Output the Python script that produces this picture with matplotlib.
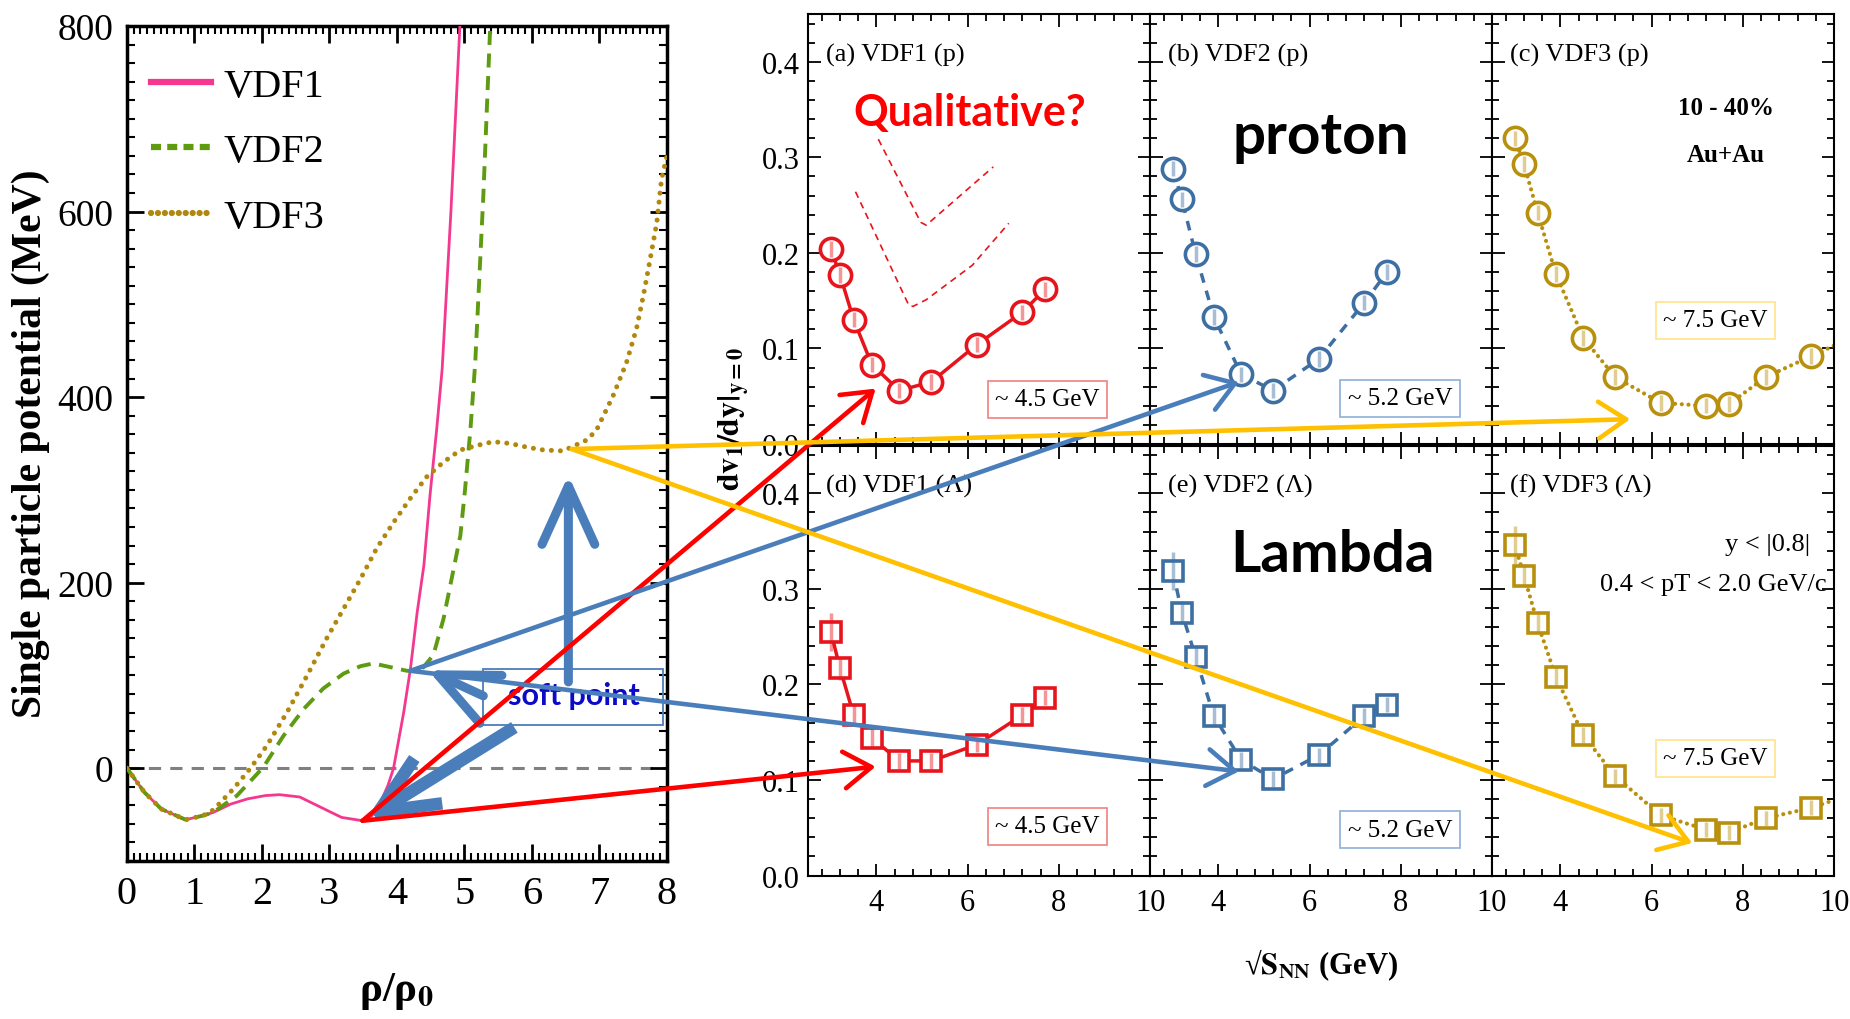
import matplotlib
matplotlib.use("Agg")
import matplotlib.pyplot as plt
from matplotlib.lines import Line2D
from matplotlib.patches import ConnectionPatch, Rectangle
from matplotlib.ticker import MultipleLocator, AutoMinorLocator, FormatStrFormatter

plt.rcParams["font.family"] = ["Liberation Serif", "DejaVu Serif"]
plt.rcParams["mathtext.fontset"] = "stix"

# ---------------------------------------------------------------------------
# Single-particle potential U(rho/rho0) in MeV for the three VDF parametrisations
rho_vdf1 = [0.0, 0.26, 0.51, 0.87, 1.13, 1.28, 1.54, 1.79, 2.05, 2.26, 2.56, 2.87,
            3.18, 3.49, 3.62, 3.75, 3.87, 3.95, 4.1, 4.2, 4.3, 4.4, 4.49, 4.59,
            4.67, 4.8, 4.93, 4.97]
U_vdf1 = [0, -26, -44, -55.5, -51, -47.6, -38.6, -33, -29.5, -28.5, -31, -42,
          -53, -56.6, -52, -38, -18, 0, 60, 107, 168, 219, 294, 366,
          430, 600, 796, 850]

rho_vdf2 = [0.0, 0.26, 0.51, 0.87, 1.13, 1.28, 1.63, 2.02, 2.32, 2.62, 2.91, 3.21,
            3.46, 3.65, 3.9, 4.15, 4.35, 4.54, 4.69, 4.81, 4.94, 5.01, 5.09, 5.16,
            5.28, 5.38, 5.40]
U_vdf2 = [0, -26, -44, -55.5, -51, -47.6, -29.5, 1, 35, 64, 86, 102,
          110, 113, 109, 105, 105, 122, 161, 204, 251, 301, 366, 437,
          617, 796, 850]

rho_vdf3 = [0.0, 0.26, 0.51, 0.87, 1.13, 1.28, 1.58, 1.83, 2.07, 2.37, 2.67, 2.96,
            3.21, 3.46, 3.70, 3.95, 4.2, 4.44, 4.69, 4.94, 5.19, 5.43, 5.68, 5.93,
            6.17, 6.46, 6.82, 6.96, 7.2, 7.4, 7.55, 7.65, 7.75, 7.85, 7.92, 8.0]
U_vdf3 = [0, -26, -44, -55.5, -51, -45, -22, 0, 24, 60, 100, 140,
          172, 204, 237, 265, 291, 314, 330, 343, 348, 352, 350, 346,
          343, 342, 354, 365, 401, 437, 474, 509, 548, 588, 635, 660]

# soft points on each potential curve (rho/rho0, MeV)
soft_vdf1 = (3.49, -56.6)
soft_vdf2 = (4.20, 105)
soft_vdf3 = (6.59, 344)

# ---------------------------------------------------------------------------
# Directed-flow slope dv1/dy at midrapidity vs collision energy (GeV)
sqrt_s = [3.0, 3.2, 3.5, 3.9, 4.5, 5.2, 6.2, 7.2, 7.7]
sqrt_s_vdf3 = [3.0, 3.2, 3.5, 3.9, 4.5, 5.2, 6.2, 7.2, 7.7, 8.5, 9.5, 11.5]

slope_p_vdf1 = [0.204, 0.177, 0.130, 0.083, 0.056, 0.065, 0.104, 0.138, 0.162]
slope_p_vdf2 = [0.288, 0.256, 0.199, 0.133, 0.073, 0.056, 0.089, 0.148, 0.180]
slope_p_vdf3 = [0.320, 0.293, 0.242, 0.178, 0.111, 0.070, 0.043, 0.040, 0.042,
                0.070, 0.092, 0.136]
slope_l_vdf1 = [0.255, 0.217, 0.168, 0.144, 0.120, 0.120, 0.137, 0.168, 0.186]
slope_l_vdf2 = [0.319, 0.275, 0.229, 0.167, 0.121, 0.101, 0.126, 0.167, 0.179]
slope_l_vdf3 = [0.346, 0.314, 0.264, 0.208, 0.147, 0.104, 0.063, 0.048, 0.045,
                0.060, 0.071, 0.103]

err_p = [0.008] * 9
err_p_vdf3 = [0.008] * 12
err_l = [0.020, 0.012, 0.010, 0.010, 0.008, 0.008, 0.008, 0.008, 0.008]
err_l_vdf3 = [0.020, 0.012, 0.010, 0.010, 0.008, 0.008, 0.008, 0.008, 0.008,
              0.008, 0.008, 0.008]

# hand-drawn "expected" trend sketches in panel (a)
sketch1_x = [4.04, 4.97, 5.09, 6.56]
sketch1_y = [0.319, 0.232, 0.229, 0.290]
sketch2_x = [3.54, 4.71, 4.80, 5.09, 6.10, 6.90]
sketch2_y = [0.264, 0.145, 0.144, 0.151, 0.187, 0.231]

panel_titles = ["(a) VDF1 (p)", "(b) VDF2 (p)", "(c) VDF3 (p)",
                "(d) VDF1 (\u039b)", "(e) VDF2 (\u039b)", "(f) VDF3 (\u039b)"]
minimum_labels = ["~ 4.5 GeV", "~ 5.2 GeV", "~ 7.5 GeV"]

PINK = "#F5388F"
GREEN = "#5E9B10"
GOLD_CURVE = "#B0880E"
RED = "#E8141C"
BLUE = "#3D6FA3"
GOLD = "#B8900E"
ARROW_RED = "#FF0000"
ARROW_BLUE = "#4A7EBB"
ARROW_GOLD = "#FFC000"

fig = plt.figure(figsize=(18.5, 10.2), dpi=100)

# ---------------------------------------------------------------------------
# Left: single-particle potential
ax0 = fig.add_axes([0.0686, 0.1549, 0.2919, 0.8186])
ax0.axhline(0, color="#808080", lw=2.2, dashes=(4, 3), zorder=1)
ax0.plot(rho_vdf1, U_vdf1, color=PINK, lw=2.0, zorder=3)
ax0.plot(rho_vdf2, U_vdf2, color=GREEN, lw=2.8, dashes=(3.6, 2.2), zorder=3)
ax0.plot(rho_vdf3, U_vdf3, color=GOLD_CURVE, lw=3.6, dashes=(0.01, 1.8),
         dash_capstyle="round", zorder=3)
ax0.set_xlim(0, 8)
ax0.set_ylim(-100, 800)
ax0.xaxis.set_major_locator(MultipleLocator(1))
ax0.xaxis.set_minor_locator(MultipleLocator(0.1))
ax0.yaxis.set_major_locator(MultipleLocator(200))
ax0.yaxis.set_minor_locator(MultipleLocator(20))
ax0.tick_params(which="both", direction="in", top=True, right=True, width=2)
ax0.tick_params(which="major", length=12, labelsize=27, pad=10)
ax0.tick_params(axis="x", which="major", labelsize=29)
ax0.tick_params(which="minor", length=6, width=1.5)
for s in ax0.spines.values():
    s.set_linewidth(2.5)

legend_handles = [
    Line2D([], [], color=PINK, lw=4.5),
    Line2D([], [], color=GREEN, lw=4.5, dashes=(1.6, 1.0)),
    Line2D([], [], color=GOLD_CURVE, lw=4.5, dashes=(0.01, 1.1), dash_capstyle="round"),
]
ax0.legend(legend_handles, ["VDF1", "VDF2", "VDF3"], loc="upper left",
           bbox_to_anchor=(0.044, 0.95), borderaxespad=0, borderpad=0,
           frameon=False, fontsize=29, handlelength=1.5, handletextpad=0.3,
           labelspacing=0.7)

fig.text(0.0165, 0.565, "Single particle potential (MeV)", rotation=90,
         ha="center", va="center", fontsize=30, fontweight="bold")
ax0.text(0.5, -0.155, "\u03c1/\u03c1$_{\\mathbf{0}}$", transform=ax0.transAxes,
         ha="center", va="center", fontsize=31, fontweight="bold")

# thick guide arrows around the soft points
thick_head = "->,head_length=2.1,head_width=0.95"
ax0.annotate("", xy=(6.54, 316), xytext=(6.54, 93),
             arrowprops=dict(arrowstyle=thick_head, color=ARROW_BLUE, lw=6.5,
                             mutation_scale=20, shrinkA=0, shrinkB=0,
                             capstyle="round", joinstyle="round"), zorder=4)
ax0.annotate("", xy=(4.46, 105.6), xytext=(5.28, 78),
             arrowprops=dict(arrowstyle=thick_head, color=ARROW_BLUE, lw=6.5,
                             mutation_scale=20, shrinkA=0, shrinkB=0,
                             capstyle="round", joinstyle="round"), zorder=4)
ax0.annotate("", xy=(3.54, -55.5), xytext=(5.74, 44),
             arrowprops=dict(arrowstyle=thick_head, color=ARROW_BLUE, lw=9,
                             mutation_scale=20, shrinkA=0, shrinkB=0,
                             capstyle="butt", joinstyle="round"), zorder=4)
ax0.add_patch(Rectangle((5.28, 46.8), 2.66, 59.9, fill=False,
                        edgecolor=ARROW_BLUE, lw=1.3, zorder=5))
ax0.text(6.62, 78.6, "soft point", color="#0A0AC8", fontsize=22,
         family=["Lato", "DejaVu Sans"], fontweight="bold",
         ha="center", va="center", zorder=5)

# ---------------------------------------------------------------------------
# Right: 2x3 grid of dv1/dy panels
lefts = [0.4368, 0.6216, 0.8065]
bottoms = [0.5637, 0.1406]
width, height = 0.1849, 0.4216

series = [
    (sqrt_s, slope_p_vdf1, err_p, RED, "-", "o"),
    (sqrt_s, slope_p_vdf2, err_p, BLUE, "--", "o"),
    (sqrt_s_vdf3, slope_p_vdf3, err_p_vdf3, GOLD, ":", "o"),
    (sqrt_s, slope_l_vdf1, err_l, RED, "-", "s"),
    (sqrt_s, slope_l_vdf2, err_l, BLUE, "--", "s"),
    (sqrt_s_vdf3, slope_l_vdf3, err_l_vdf3, GOLD, ":", "s"),
]
box_edges = ["#F08080", "#8FB0D8", "#FFE38A"]
box_pos = [[(0.70, 0.104), (0.731, 0.107), (0.653, 0.288)],
           [(0.70, 0.115), (0.731, 0.107), (0.653, 0.273)]]

axes = []
for r in range(2):
    for c in range(3):
        ax = fig.add_axes([lefts[c], bottoms[r], width, height])
        axes.append(ax)
        x, y, e, col, ls, mk = series[3 * r + c]
        line_kw = dict(color=col, lw=2.5, zorder=2)
        if ls == "--":
            line_kw["dashes"] = (2.8, 2.4)
        elif ls == ":":
            line_kw.update(dashes=(0.01, 1.6), dash_capstyle="round", lw=3.0)
        ax.plot(x, y, **line_kw)
        ms = 16 if mk == "o" else 14.5
        ax.plot(x, y, linestyle="none", marker=mk, ms=ms, mfc="white",
                mec=col, mew=2.6, zorder=3)
        ax.errorbar(x, y, yerr=e, fmt="none", ecolor=col, elinewidth=2.5,
                    alpha=0.45, capsize=0, zorder=4)
        ax.set_xlim(2.5, 10)
        ax.set_ylim(0, 0.45)
        ax.xaxis.set_major_locator(MultipleLocator(2))
        ax.xaxis.set_minor_locator(AutoMinorLocator(5))
        ax.yaxis.set_major_locator(MultipleLocator(0.1))
        ax.yaxis.set_minor_locator(AutoMinorLocator(5))
        ax.yaxis.set_major_formatter(FormatStrFormatter("%.1f"))
        ax.tick_params(which="both", direction="in", top=True, right=True,
                       labelsize=22, width=1.3)
        ax.tick_params(which="major", length=9)
        ax.tick_params(which="minor", length=5)
        ax.tick_params(axis="y", pad=6)
        ax.tick_params(axis="x", pad=9)
        ax.tick_params(labelleft=(c == 0), labelbottom=(r == 1))
        for s in ax.spines.values():
            s.set_linewidth(1.5)
        ax.text(0.052, 0.907, panel_titles[3 * r + c], transform=ax.transAxes,
                fontsize=19, ha="left", va="center")
        bx, by = box_pos[r][c]
        ax.text(bx, by, minimum_labels[c], transform=ax.transAxes, fontsize=18,
                ha="center", va="center", zorder=6,
                bbox=dict(boxstyle="square,pad=0.3", fc="white",
                          ec=box_edges[c], lw=1.2))

ax_a, ax_b, ax_c, ax_d, ax_e, ax_f = axes

ax_a.plot(sketch1_x, sketch1_y, color=RED, lw=1.2, dashes=(4, 3), zorder=2)
ax_a.plot(sketch2_x, sketch2_y, color=RED, lw=1.2, dashes=(4, 3), zorder=2)
ax_a.text(0.472, 0.772, "Qualitative?", transform=ax_a.transAxes, color="#FF0000",
          fontsize=31, family=["Lato", "DejaVu Sans"], fontweight="bold",
          ha="center", va="center")
ax_b.text(0.50, 0.714, "proton", transform=ax_b.transAxes, fontsize=42,
          family=["Lato", "DejaVu Sans"], fontweight="bold", ha="center", va="center")
ax_e.text(0.534, 0.746, "Lambda", transform=ax_e.transAxes, fontsize=42,
          family=["Lato", "DejaVu Sans"], fontweight="bold", ha="center", va="center")
ax_c.text(0.684, 0.783, "10 - 40%", transform=ax_c.transAxes, fontsize=18,
          fontweight="bold", ha="center", va="center")
ax_c.text(0.684, 0.673, "Au+Au", transform=ax_c.transAxes, fontsize=18,
          fontweight="bold", ha="center", va="center")
ax_f.text(0.93, 0.77, "y < |0.8|", transform=ax_f.transAxes, fontsize=19,
          ha="right", va="center")
ax_f.text(0.978, 0.678, "0.4 < pT < 2.0 GeV/c", transform=ax_f.transAxes,
          fontsize=19, ha="right", va="center")

fig.text(0.3968, 0.589, r"$\mathbf{dv_1/dy|_{y=0}}$", rotation=90,
         ha="center", va="center", fontsize=23)
fig.text(0.714, 0.054, "\u221a$\\mathbf{S_{NN}}$ (GeV)", ha="center", va="center",
         fontsize=22, fontweight="bold")

# ---------------------------------------------------------------------------
# Long arrows linking each soft point to the energy of minimum flow
long_head = "->,head_length=0.9,head_width=0.6"
links = [
    (soft_vdf1, ax_a, (3.98, 0.058), ARROW_RED),
    (soft_vdf1, ax_d, (3.98, 0.114), ARROW_RED),
    (soft_vdf2, ax_b, (4.45, 0.065), ARROW_BLUE),
    (soft_vdf2, ax_e, (4.45, 0.109), ARROW_BLUE),
    (soft_vdf3, ax_c, (5.53, 0.026), ARROW_GOLD),
    (soft_vdf3, ax_f, (6.89, 0.034), ARROW_GOLD),
]
for start, target_ax, end, col in links:
    con = ConnectionPatch(xyA=start, coordsA=ax0.transData, xyB=end,
                          coordsB=target_ax.transData, arrowstyle=long_head,
                          mutation_scale=22, color=col, lw=3.3,
                          shrinkA=0, shrinkB=0, zorder=20)
    fig.add_artist(con)

fig.savefig("out.png", dpi=100)
